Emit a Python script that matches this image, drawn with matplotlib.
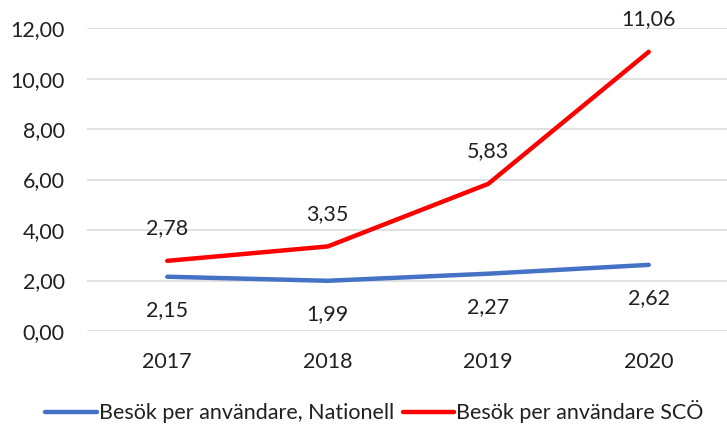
import matplotlib
matplotlib.use("Agg")
import matplotlib.pyplot as plt

years = ["2017", "2018", "2019", "2020"]
nationell = [2.15, 1.99, 2.27, 2.62]
sco = [2.78, 3.35, 5.83, 11.06]
label_nat = "Besök per användare, Nationell"
label_sco = "Besök per användare SCÖ"
yticks = [0, 2, 4, 6, 8, 10, 12]

plt.rcParams['font.family'] = ['Lato', 'DejaVu Sans']
FS = 15.5

fig = plt.figure(figsize=(7.27, 4.26), dpi=100)
ax = fig.add_axes([0.1197, 0.223, 0.883, 0.711])

x = list(range(len(years)))
ax.plot(x, nationell, color="#4472C4", lw=3.2, solid_capstyle="round", label=label_nat)
ax.plot(x, sco, color="#FF0000", lw=3.2, solid_capstyle="round", label=label_sco)

def fmt(v):
    return f"{v:.2f}".replace(".", ",")

for xi, v in zip(x, sco):
    ax.annotate(fmt(v), (xi, v), xytext=(0, 23.5), textcoords="offset points",
                ha="center", va="center", fontsize=FS, color="#202020")
for xi, v in zip(x, nationell):
    ax.annotate(fmt(v), (xi, v), xytext=(0, -24), textcoords="offset points",
                ha="center", va="center", fontsize=FS, color="#202020")

ax.set_xlim(-0.5, 3.5)
ax.set_ylim(0, 12)
ax.set_yticks(yticks)
ax.set_yticklabels([fmt(t) for t in yticks])
ax.set_xticks(x)
ax.set_xticklabels(years)
ax.tick_params(axis="both", length=0, labelsize=FS, labelcolor="#202020")
ax.tick_params(axis="y", pad=16)
ax.tick_params(axis="x", pad=15)
ax.grid(axis="y", color="#D9D9D9", lw=1.1)
ax.set_axisbelow(True)
for s in ax.spines.values():
    s.set_visible(False)

fig.legend(loc="center", bbox_to_anchor=(0.515, 0.033), ncol=2, frameon=False,
           fontsize=FS, handlelength=2.4, handletextpad=0.1, columnspacing=0.4,
           labelcolor="#202020")

fig.savefig("out.png", dpi=100)
